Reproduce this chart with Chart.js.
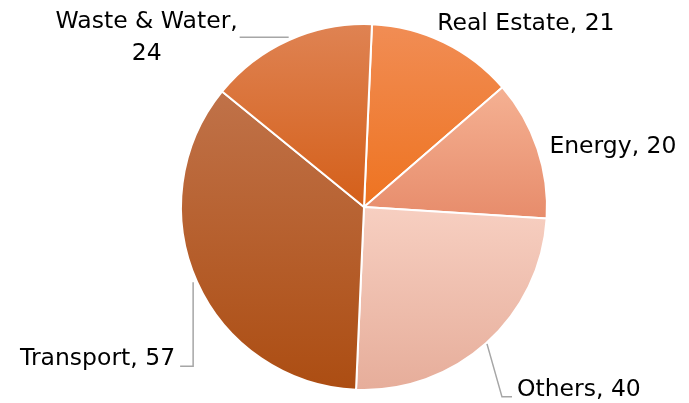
<!DOCTYPE html>
<html>
<head>
<meta charset="utf-8">
<script src="https://cdn.jsdelivr.net/npm/chart.js@4"></script>
<style>
  html, body { margin: 0; padding: 0; background: #fff; }
  #wrap { width: 689px; height: 403px; }
</style>
</head>
<body>
<div id="wrap"><canvas id="pieChart" width="689" height="403"></canvas></div>
<script>
const sectors = ['Real Estate', 'Energy', 'Others', 'Transport', 'Waste & Water'];
const amounts = [21, 20, 40, 57, 24];
const topColors = ['#F18D55', '#F5B193', '#F7CFC1', '#C07249', '#DF8353'];
const bottomColors = ['#EE7320', '#E78C6B', '#E6AD9A', '#AC4D12', '#D45F19'];
const startRotation = 2.5;

// label placement, relative to the slice edge at its middle angle
const labelLayout = [
    { dx: -7, dy: -17, align: 'left', leader: null },
    { dx: 11, dy: -1, align: 'left', leader: null },
    { dx: 30, dy: 46, align: 'left', leader: [[0, 0], [15, 53], [25, 53]] },
    { dx: -21, dy: 77, align: 'right', leader: [[-3, 0], [-3, 84], [-16, 84]] },
    { dx: -142, dy: -17, align: 'center', leader: [[0, -2], [-49, -2]], twoLines: true }
];

function pieGeometry(chart) {
    const a = chart.chartArea;
    return {
        cx: (a.left + a.right) / 2,
        cy: (a.top + a.bottom) / 2,
        r: Math.min(a.right - a.left, a.bottom - a.top) / 2
    };
}

function sliceAngles(i) {
    const total = amounts.reduce((s, v) => s + v, 0);
    let before = 0;
    for (let k = 0; k < i; k++) before += amounts[k];
    const a0 = startRotation + before / total * 360;
    const a1 = a0 + amounts[i] / total * 360;
    return [a0, a1];
}

function sliceGradient(context) {
    const chart = context.chart;
    const i = context.dataIndex;
    if (!chart.chartArea) return topColors[i];
    const g = pieGeometry(chart);
    const [a0, a1] = sliceAngles(i);
    let ymin = g.cy, ymax = g.cy;
    for (let a = a0; a <= a1; a += 1) {
        const y = g.cy - g.r * Math.cos(a * Math.PI / 180);
        ymin = Math.min(ymin, y);
        ymax = Math.max(ymax, y);
    }
    const yEnd = g.cy - g.r * Math.cos(a1 * Math.PI / 180);
    ymin = Math.min(ymin, yEnd);
    ymax = Math.max(ymax, yEnd);
    const grad = chart.ctx.createLinearGradient(0, ymin, 0, ymax);
    grad.addColorStop(0, topColors[i]);
    grad.addColorStop(1, bottomColors[i]);
    return grad;
}

const outsideLabels = {
    id: 'outsideLabels',
    afterDatasetsDraw(chart) {
        const ctx = chart.ctx;
        const g = pieGeometry(chart);
        ctx.save();
        ctx.font = '23.5px "DejaVu Sans"';
        ctx.fillStyle = '#000';
        ctx.textBaseline = 'middle';
        sectors.forEach((name, i) => {
            const [a0, a1] = sliceAngles(i);
            const mid = (a0 + a1) / 2 * Math.PI / 180;
            const ex = g.cx + g.r * Math.sin(mid);
            const ey = g.cy - g.r * Math.cos(mid);
            const lay = labelLayout[i];
            if (lay.leader) {
                ctx.beginPath();
                ctx.strokeStyle = '#A6A6A6';
                ctx.lineWidth = 1.5;
                lay.leader.forEach((p, k) => {
                    if (k === 0) ctx.moveTo(ex + p[0], ey + p[1]);
                    else ctx.lineTo(ex + p[0], ey + p[1]);
                });
                ctx.stroke();
            }
            ctx.textAlign = lay.align;
            const tx = ex + lay.dx;
            const ty = ey + lay.dy;
            if (lay.twoLines) {
                ctx.fillText(name + ',', tx, ty);
                ctx.fillText(String(amounts[i]), tx, ty + 32);
            } else {
                ctx.fillText(name + ', ' + amounts[i], tx, ty);
            }
        });
        ctx.restore();
    }
};

new Chart(document.getElementById('pieChart').getContext('2d'), {
    type: 'pie',
    data: {
        labels: sectors,
        datasets: [{
            data: amounts,
            backgroundColor: sliceGradient,
            borderColor: '#ffffff',
            borderWidth: 2
        }]
    },
    options: {
        responsive: false,
        animation: false,
        rotation: startRotation,
        layout: {
            padding: { left: 180, right: 141, top: 23, bottom: 12 }
        },
        plugins: {
            legend: { display: false },
            tooltip: { enabled: false }
        }
    },
    plugins: [outsideLabels]
});
</script>
</body>
</html>
